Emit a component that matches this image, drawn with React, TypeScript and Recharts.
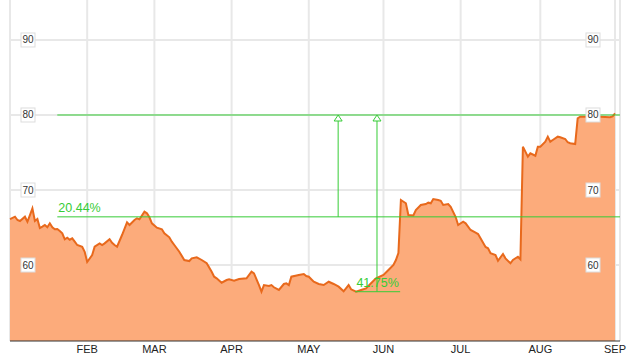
import React from 'react';
import { ComposedChart, Area, XAxis, YAxis, CartesianGrid, ReferenceLine } from 'recharts';

// day of year (0 = Jan 1) and closing price
const days = [
  0, 2, 3, 4, 6, 7, 9, 10, 11, 12, 13, 14, 15, 16, 17, 18, 19, 20, 21, 22, 23, 24, 25, 26, 27, 29, 30, 31,
  33, 34, 36, 37, 38, 40, 41, 42, 43, 45, 47, 48, 50, 51, 52, 54, 55, 56, 57, 59, 61, 62, 64, 65, 66, 68,
  70, 72, 73, 75, 77, 79, 81, 82, 83, 85, 87, 88, 90, 92, 95, 97, 98, 100, 101, 102, 104, 105, 106, 108,
  110, 111, 112, 113, 116, 118, 119, 120, 122, 124, 126, 128, 130, 132, 134, 136, 137, 139, 141, 143, 145,
  147, 150, 152, 154, 155, 156, 157, 159, 160, 162, 163, 165, 167, 168, 169, 170, 172, 173, 174, 176, 177,
  179, 180, 182, 183, 185, 187, 188, 191, 192, 193, 195, 196, 198, 199, 201, 202, 204, 205, 206, 207, 208,
  209, 211, 212, 213, 215, 216, 217, 218, 220, 221, 223, 224, 225, 227, 228, 229, 232, 237, 241, 242, 243,
];
const prices = [
  66.13, 66.44, 66.0, 65.87, 66.44, 65.77, 67.56, 65.87, 66.13, 64.93, 65.11, 65.33, 65.03, 65.56, 65.03,
  64.76, 64.8, 64.53, 64.23, 63.43, 63.64, 63.37, 63.56, 63.11, 62.67, 62.44, 61.77, 60.4,
  61.33, 62.44, 62.89, 62.67, 62.89, 63.43, 62.97, 62.67, 62.44, 64.0, 65.69, 65.33, 66.0, 66.23, 66.09,
  67.11, 66.89, 66.36, 65.56, 64.97, 64.76, 64.23, 63.69, 63.11, 62.67, 61.77,
  60.67, 60.53, 60.89, 61.03, 60.67, 60.23, 59.11, 58.44, 58.23, 57.64, 58.0, 58.09, 57.91, 58.13, 58.23,
  59.11, 58.89, 57.33, 56.44, 57.33, 57.2, 57.33, 57.03, 56.67,
  57.47, 57.56, 57.33, 58.44, 58.67, 58.8, 58.53, 58.44, 57.77, 57.47, 57.33, 57.77, 57.47, 57.11, 56.5,
  57.33, 56.76, 56.44, 56.67, 56.89, 57.56,
  58.23, 58.67, 59.33, 60.0, 60.67, 61.6, 68.67, 68.23, 66.67, 66.6, 67.33, 68.0, 68.13, 68.31, 68.23,
  68.8, 68.67, 68.57, 68.0, 68.13, 67.77,
  66.4, 65.33, 65.77, 65.56, 64.67, 64.31, 64.13, 62.4, 62.23, 61.56, 61.33, 60.57, 61.47, 60.89, 60.23,
  60.67, 61.11, 60.76, 75.77, 75.11, 74.44,
  74.89, 74.57, 75.77, 75.77, 76.44, 77.11, 76.44, 76.67, 77.11, 77.03, 76.8, 76.36, 76.23, 76.13, 79.56,
  79.77, 79.77, 79.77, 79.7, 79.8, 80.23,
];

const monthTicks = [31, 58, 89, 120, 150, 181, 213, 243];
const monthLabels = ['FEB', 'MAR', 'APR', 'MAY', 'JUN', 'JUL', 'AUG', 'SEP'];
const priceTicks = [60, 70, 80, 90];

const targetPrice = 80;
const midPrice = 66.42;
const lowPrice = 56.44;
const midGain = '20.44%';
const lowGain = '41.75%';

const data = days.map((d, i) => ({ day: d, price: prices[i] }));

const GREEN = '#36cc36';
const FONT = '"Liberation Sans", Arial, sans-serif';
const Y_DOMAIN = [49.87, 95.33];

const BoxTick = ({ x, y, payload, side }: any) => {
  const bx = side === 'left' ? x + 11 : x - 34;
  return (
    <g>
      <rect x={bx} y={y - 7} width={14} height={14} fill="#fff" stroke="#dddddd" />
      <text x={bx + 7} y={y + 3.5} textAnchor="middle" fontSize={10} fontFamily={FONT} fill="#333">
        {payload.value}
      </text>
    </g>
  );
};

const ArrowLine = ({ x1, y1, x2, y2 }: any) => {
  const top = Math.min(y1, y2);
  const bottom = Math.max(y1, y2);
  return (
    <g>
      <line x1={x1} y1={bottom} x2={x2} y2={top + 6} stroke={GREEN} strokeWidth={1} />
      <path d={`M${x1},${top} L${x1 - 4},${top + 6} L${x1 + 4},${top + 6} Z`} fill="#fff" stroke={GREEN} strokeWidth={1} />
    </g>
  );
};

const App = () => {
  return (
    <div style={{ position: 'absolute', left: 0, top: 0 }}>
      <ComposedChart width={629} height={356} data={data} margin={{ top: 0, right: 8, bottom: 0, left: 9 }}>
        <CartesianGrid yAxisId="l" stroke="#e8e8e8" strokeWidth={2} horizontalValues={priceTicks} />
        <XAxis
          dataKey="day"
          type="number"
          domain={[0, 245]}
          ticks={monthTicks}
          tickFormatter={(v) => monthLabels[monthTicks.indexOf(v)]}
          height={15}
          tickSize={0}
          tickMargin={4}
          interval={0}
          axisLine={{ stroke: '#333' }}
          tick={{ fontSize: 11, fill: '#222', fontFamily: FONT }}
        />
        <YAxis
          yAxisId="l"
          orientation="left"
          domain={Y_DOMAIN}
          ticks={priceTicks}
          allowDataOverflow
          width={1}
          tickSize={0}
          tickMargin={0}
          axisLine={false}
          interval={0}
          tick={<BoxTick side="left" />}
        />
        <YAxis
          yAxisId="r"
          orientation="right"
          domain={Y_DOMAIN}
          ticks={priceTicks}
          allowDataOverflow
          width={1}
          tickSize={0}
          tickMargin={0}
          axisLine={false}
          interval={0}
          tick={<BoxTick side="right" />}
        />
        <Area
          yAxisId="l"
          type="linear"
          dataKey="price"
          stroke="#e8691c"
          strokeWidth={2}
          fill="#fcab7b"
          fillOpacity={1}
          baseValue={Y_DOMAIN[0]}
          isAnimationActive={false}
          dot={false}
          activeDot={false}
        />
        <ReferenceLine
          yAxisId="l"
          segment={[{ x: 19, y: targetPrice }, { x: 245, y: targetPrice }]}
          stroke={GREEN}
        />
        <ReferenceLine
          yAxisId="l"
          segment={[{ x: 19, y: midPrice }, { x: 245, y: midPrice }]}
          stroke={GREEN}
          label={(p: any) => (
            <text x={p.viewBox.x + 1} y={p.viewBox.y - 5} fontSize={12.5} fontFamily={FONT} fill={GREEN}>
              {midGain}
            </text>
          )}
        />
        <ReferenceLine
          yAxisId="l"
          segment={[{ x: 138.6, y: lowPrice }, { x: 156.7, y: lowPrice }]}
          stroke={GREEN}
          label={(p: any) => (
            <text x={p.viewBox.x + p.viewBox.width / 2} y={p.viewBox.y - 5} textAnchor="middle" fontSize={12.5} fontFamily={FONT} fill={GREEN}>
              {lowGain}
            </text>
          )}
        />
        <ReferenceLine
          yAxisId="l"
          segment={[{ x: 131.8, y: midPrice }, { x: 131.8, y: targetPrice }]}
          stroke={GREEN}
          shape={ArrowLine}
        />
        <ReferenceLine
          yAxisId="l"
          segment={[{ x: 147.4, y: lowPrice }, { x: 147.4, y: targetPrice }]}
          stroke={GREEN}
          shape={ArrowLine}
        />
      </ComposedChart>
    </div>
  );
};

export default App;
